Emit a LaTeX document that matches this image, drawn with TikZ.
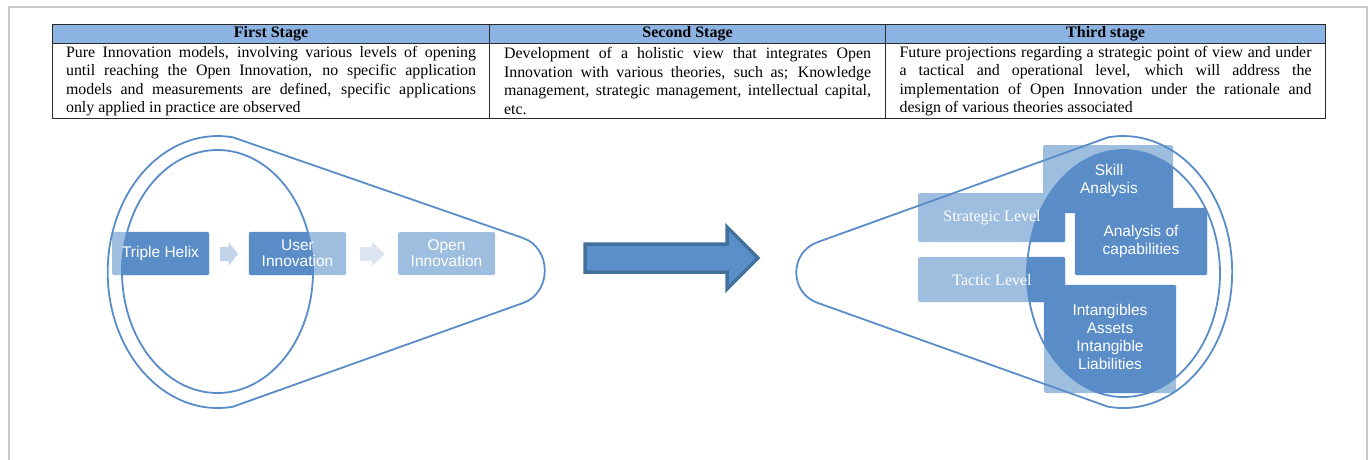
\documentclass[tikz,border=0pt]{standalone}
\usepackage{fontspec}
\setmainfont{Liberation Serif}
\newfontfamily\arialfont{Liberation Sans}
\definecolor{hdr}{HTML}{8DB3E2}
\definecolor{tblline}{HTML}{2A2A2A}
\definecolor{dk}{HTML}{5A8DC8}
\definecolor{lt}{HTML}{9EBEE0}
\definecolor{ln}{HTML}{5A8CC8}
\definecolor{arrA}{HTML}{C3D3EA}
\definecolor{arrB}{HTML}{DCE5F1}
\definecolor{bigfill}{HTML}{5B8FC9}
\definecolor{bigline}{HTML}{41719C}
\definecolor{frame}{HTML}{C8C8C8}
\newcommand\tblsetup{\tolerance=10000\relax\hyphenpenalty=10000\relax\exhyphenpenalty=10000\relax}
\begin{document}
\begin{tikzpicture}[x=1pt,y=-1pt,
  cell/.style={draw=tblline, line width=1.1pt, inner sep=0pt, anchor=north west},
  hcell/.style={cell, fill=hdr, minimum height=19pt, font=\bfseries\fontsize{16}{18}\selectfont},
  bcell/.style={cell, minimum height=75pt, inner ysep=0pt, align=justify,
    font=\fontsize{15.9}{18.4}\selectfont},
  sbox/.style={fill=lt, rounded corners=1.5pt, inner sep=0pt},
  stxt/.style={text=white, align=center, inner sep=0pt, font=\arialfont\fontsize{15.5}{16}\selectfont},
  rtxt/.style={text=white, align=center, inner sep=0pt, font=\arialfont\fontsize{15.5}{18}\selectfont},
  ltxt/.style={text=white, align=center, inner sep=0pt, font=\fontsize{16}{18}\selectfont},
  outline/.style={draw=ln, line width=1.8pt}
]
\useasboundingbox (0,0) rectangle (1369,460);
% frame
\draw[frame, line width=2pt] (9,461) -- (9,7) -- (1367,7) -- (1367,461);

% table
\node[hcell, minimum width=437pt] (h1) at (52,24) {First Stage};
\node[hcell, minimum width=396pt] (h2) at (489,24) {Second Stage};
\node[hcell, minimum width=440pt] (h3) at (885,24) {Third stage};
\node[bcell, text width=410pt, inner xsep=13.5pt] (c1) at (52,43)
 {\tblsetup Pure Innovation models, involving various levels of opening\linebreak until reaching the Open Innovation, no specific application\linebreak models and measurements are defined, specific applications\linebreak only applied in practice are observed};
\node[bcell, text width=367pt, inner xsep=14.5pt] (c2) at (489,43)
 {\tblsetup Development of a holistic view that integrates Open\linebreak Innovation with various theories, such as; Knowledge\linebreak management, strategic management, intellectual capital,\linebreak etc.};
\node[bcell, text width=412pt, inner xsep=14pt] (c3) at (885,43)
 {\tblsetup Future projections regarding a strategic point of view and under\linebreak a tactical and operational level, which will address the\linebreak implementation of Open Innovation under the rationale and\linebreak design of various theories associated};

% left boxes (light)
\node[sbox, minimum width=97pt, minimum height=43pt] (th) at (160.5,253.5) {};
\node[sbox, minimum width=97pt, minimum height=43pt] (ui) at (297.5,253.5) {};
\node[sbox, minimum width=97pt, minimum height=43pt] (oi) at (446.5,253.5) {};
% right boxes (light)
\node[sbox, minimum width=130pt, minimum height=68pt] (sk) at (1108,179) {};
\node[sbox, minimum width=147pt, minimum height=49pt] (sl) at (991.5,217.5) {};
\node[sbox, minimum width=147pt, minimum height=45pt] (tl) at (991.5,279.5) {};
\node[sbox, minimum width=132pt, minimum height=67pt] (an) at (1141,241.5) {};
\node[sbox, minimum width=132pt, minimum height=108pt] (in) at (1110,339) {};

% darker parts inside the inner ellipses
\begin{scope}
\clip (217.5,271.5) ellipse [x radius=95.5, y radius=121.5];
\foreach \b in {th,ui,oi}
  \fill[dk, rounded corners=1.5pt] (\b.south west) rectangle (\b.north east);
\end{scope}
\begin{scope}
\clip (1123.5,273.5) ellipse [x radius=96.5, y radius=123.5];
\foreach \b in {sk,sl,tl,an,in}
  \fill[dk, rounded corners=1.5pt] (\b.south west) rectangle (\b.north east);
\end{scope}

% small arrows
\fill[arrA] (220,247) -- (228.5,247) -- (228.5,242) -- (238,254) -- (228.5,266) -- (228.5,261) -- (220,261) -- cycle;
\fill[arrB] (360,247) -- (372,247) -- (372,242) -- (385,254) -- (372,266) -- (372,261) -- (360,261) -- cycle;

% big arrow
\filldraw[fill=bigfill, draw=bigline, line width=3.5pt, line join=miter]
  (585,244) -- (727,244) -- (727,227) -- (758,258) -- (727,289) -- (727,272) -- (585,272) -- cycle;

% outlines
\draw[outline] (233,406.7) arc[start angle=82, end angle=278, x radius=110, y radius=136]
  -- (523,238) .. controls (552,248) and (552,293) .. (523,303) -- cycle;
\draw[outline] (217.5,271.5) ellipse [x radius=95.5, y radius=121.5];
\draw[outline] (1108,406.7) arc[start angle=98, end angle=-98, x radius=109, y radius=136]
  -- (818,242) .. controls (789,252) and (789,293) .. (818,303) -- cycle;
\draw[outline] (1123.5,273.5) ellipse [x radius=96.5, y radius=123.5];

% texts
\node[stxt] (tht) at (th) {Triple Helix};
\node[stxt] (uit) at (ui) {User\\Innovation};
\node[stxt] (oit) at (oi) {Open\\Innovation};
\node[rtxt] (skt) at (1109,180) {Skill\\Analysis};
\node[rtxt] (ant) at (1141,241) {Analysis of\\capabilities};
\node[rtxt] (int) at (1110,337) {Intangibles\\Assets\\Intangible\\Liabilities};
\node[ltxt] (slt) at (992,218) {Strategic Level};
\node[ltxt] (tlt) at (992,280) {Tactic Level};
\end{tikzpicture}
\end{document}
